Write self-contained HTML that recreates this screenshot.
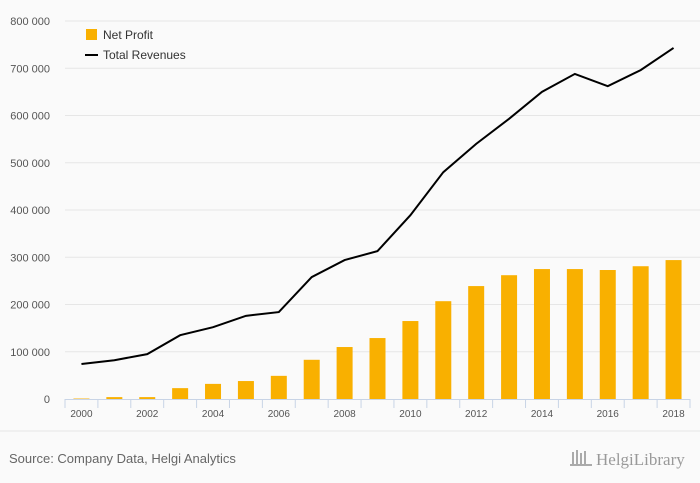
<!DOCTYPE html>
<html><head><meta charset="utf-8"><style>
body{margin:0;background:#fafafa;font-family:"Liberation Sans",sans-serif}
svg{display:block}
</style></head><body>
<svg width="700" height="483">
<rect width="700" height="483" fill="#fafafa"/>
<g id="grid"></g><g id="bars"></g><g id="line"></g><g id="axes"></g>
<g>
<rect x="86" y="29" width="11" height="11" fill="#f9b000"/>
<text x="103" y="39" font-size="12" fill="#333">Net Profit</text>
<line x1="85" y1="55" x2="98" y2="55" stroke="#000" stroke-width="2"/>
<text x="103" y="59" font-size="12" fill="#333">Total Revenues</text>
</g>
<line x1="0" y1="431" x2="700" y2="431" stroke="#e6e6e6"/>
<text x="9" y="463" font-size="13" fill="#666">Source: Company Data, Helgi Analytics</text>
<text x="596" y="465" font-size="17" fill="#999" font-family="Liberation Serif,serif">HelgiLibrary</text>
<g fill="#aaa"><rect x="572" y="452" width="2" height="12"/><rect x="576" y="450" width="2" height="14"/><rect x="580" y="453" width="2" height="11"/><rect x="584" y="451" width="2" height="13"/><rect x="570" y="464" width="22" height="2"/></g>
</svg>
<script>
const years=[2000,2001,2002,2003,2004,2005,2006,2007,2008,2009,2010,2011,2012,2013,2014,2015,2016,2017,2018];
const netProfit=[1000,4000,4000,23000,32000,38000,49000,83000,110000,129000,165000,207000,239000,262000,275000,275000,273000,281000,294000];
const revenues=[74000,82000,95000,135000,152000,176000,184000,258000,294000,313000,389000,480000,540000,593000,650000,688000,662000,696000,743000];
const yTicks=[0,100000,200000,300000,400000,500000,600000,700000,800000];
const NS="http://www.w3.org/2000/svg";
const x0=65,x1=690,y0=399,y1=21,cw=(x1-x0)/years.length;
const X=i=>x0+cw*(i+0.5);
const Y=v=>y0-(v/800000)*(y0-y1);
function mk(t,a,p){const e=document.createElementNS(NS,t);for(const k in a)e.setAttribute(k,a[k]);p.appendChild(e);return e;}
const g=document.getElementById('grid');
yTicks.forEach(v=>{
 if(v>0){const l=mk('line',{x1:x0,x2:x1+10,y1:Y(v),y2:Y(v),stroke:'#e6e6e6'},g);
 
 }
 const t=mk('text',{x:50,y:Y(v)+4,'text-anchor':'end','font-size':'11',fill:'#555'},g);
 t.textContent=v===0?'0':String(v).replace(/\B(?=(\d{3})+(?!\d))/g,' ');
 
 
});
const b=document.getElementById('bars');
netProfit.forEach((v,i)=>{
 const r=mk('rect',{x:X(i)-8,y:Y(v),width:16,height:y0-Y(v),fill:'#f9b000'},b);
 
 
});
const ln=mk('polyline',{points:revenues.map((v,i)=>X(i)+','+Y(v)).join(' '),fill:'none',stroke:'#000','stroke-width':2},document.getElementById('line'));


const a=document.getElementById('axes');
const ax=mk('line',{x1:x0,x2:x1,y1:y0+0.5,y2:y0+0.5,stroke:'#c8d4e6'},a);


for(let i=0;i<=years.length;i++){
 const tk=mk('line',{x1:x0+cw*i,x2:x0+cw*i,y1:y0,y2:y0+9,stroke:'#c8d4e6'},a);
 
 
}
years.forEach((yr,i)=>{if(i%2)return;
 const t=mk('text',{x:X(i),y:417,'text-anchor':'middle','font-size':'10',fill:'#555'},a);
 t.textContent=yr;
 
 
});
</script>
</body></html>
